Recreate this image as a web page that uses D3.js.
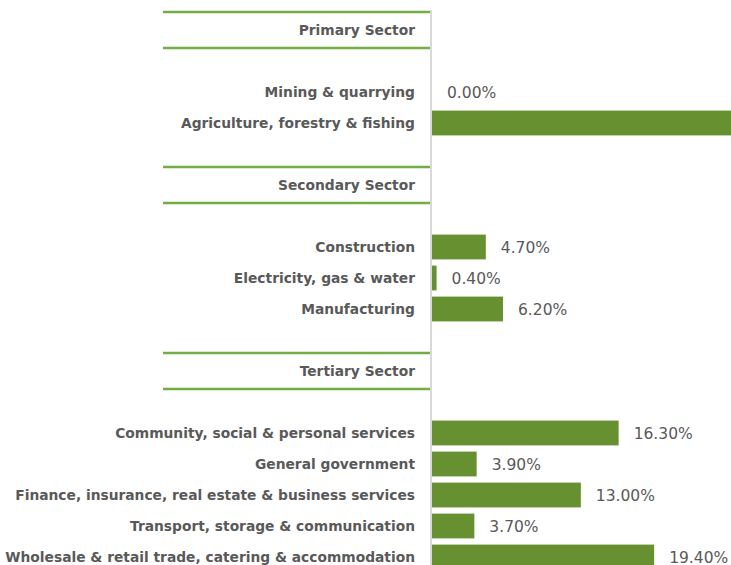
<!DOCTYPE html>
<html>
<head>
<meta charset="utf-8">
<script src="https://cdn.jsdelivr.net/npm/d3@7"></script>
<style>
  html, body { margin: 0; padding: 0; background: #fff; }
  svg { display: block; }
</style>
</head>
<body>
<div id="chart"></div>
<script>
// Sector breakdown: share by industry, grouped into three sectors.
const sectors = ["Primary Sector", "Secondary Sector", "Tertiary Sector"];

const primaryIndustries = ["Mining & quarrying", "Agriculture, forestry & fishing"];
const primaryValues = [0.0, 32.4];

const secondaryIndustries = ["Construction", "Electricity, gas & water", "Manufacturing"];
const secondaryValues = [4.7, 0.4, 6.2];

const tertiaryIndustries = [
  "Community, social & personal services",
  "General government",
  "Finance, insurance, real estate & business services",
  "Transport, storage & communication",
  "Wholesale & retail trade, catering & accommodation"
];
const tertiaryValues = [16.3, 3.9, 13.0, 3.7, 19.4];

(function () {
  const W = 731, H = 565;
  const axisX = 431;

  const barColor = "#679030";
  const ruleColor = "#72ae44";
  const textColor = "#595959";

  // build row list: header, gap, items..., gap
  const groups = [
    { name: sectors[0], items: primaryIndustries, values: primaryValues },
    { name: sectors[1], items: secondaryIndustries, values: secondaryValues },
    { name: sectors[2], items: tertiaryIndustries, values: tertiaryValues }
  ];
  const rows = [];
  groups.forEach((g, gi) => {
    rows.push({ key: "h" + gi, type: "header", label: g.name });
    rows.push({ key: "g" + gi + "a", type: "gap" });
    g.items.forEach((name, i) => rows.push({ key: name, type: "bar", label: name, value: g.values[i] }));
    if (gi < groups.length - 1) rows.push({ key: "g" + gi + "b", type: "gap" });
  });

  const svg = d3.select("#chart").append("svg")
    .attr("width", W)
    .attr("height", H);

  const y = d3.scaleBand()
    .domain(rows.map(d => d.key))
    .range([14.5, 572.5])
    .paddingInner(0.2)
    .paddingOuter(0.1);

  const x = d3.scaleLinear()
    .domain([0, 26])
    .range([axisX + 1, axisX + 1 + 26 * 11.45]);

  const center = d => y(d.key) + y.bandwidth() / 2;

  const bars = rows.filter(d => d.type === "bar");
  const headers = rows.filter(d => d.type === "header");

  // bars
  svg.selectAll(".bar")
    .data(bars)
    .enter()
    .append("rect")
    .attr("class", "bar")
    .attr("x", x(0))
    .attr("y", d => y(d.key))
    .attr("width", d => Math.max(0, x(d.value) - x(0)))
    .attr("height", y.bandwidth())
    .attr("fill", barColor);

  // vertical axis line
  svg.append("line")
    .attr("x1", axisX).attr("x2", axisX)
    .attr("y1", 10).attr("y2", H)
    .attr("stroke", "#d9d9d9")
    .attr("stroke-width", 2);

  // sector header rules
  const ruleG = svg.append("g");
  headers.forEach(d => {
    [center(d) - 18, center(d) + 18].forEach(ry => {
      ruleG.append("line")
        .attr("x1", 163).attr("x2", axisX - 1)
        .attr("y1", ry).attr("y2", ry)
        .attr("stroke", ruleColor)
        .attr("stroke-width", 2.5);
    });
  });

  // category labels
  svg.selectAll(".cat-label")
    .data(rows.filter(d => d.type !== "gap"))
    .enter()
    .append("text")
    .attr("class", "cat-label")
    .attr("x", axisX - 16)
    .attr("y", d => center(d))
    .attr("dy", "0.35em")
    .attr("text-anchor", "end")
    .style("font-family", "'DejaVu Sans', sans-serif")
    .style("font-weight", "bold")
    .style("font-size", "13.8px")
    .attr("fill", textColor)
    .text(d => d.label);

  // value labels (the one for the clipped bar falls outside the canvas)
  svg.selectAll(".val-label")
    .data(bars.filter(d => x(d.value) + 15 < W))
    .enter()
    .append("text")
    .attr("class", "val-label")
    .attr("x", d => x(d.value) + 15)
    .attr("y", d => center(d))
    .attr("dy", "0.36em")
    .style("font-family", "'DejaVu Sans', sans-serif")
    .style("font-size", "15.5px")
    .attr("fill", textColor)
    .text(d => d3.format(".2f")(d.value) + "%");
})();
</script>
</body>
</html>
